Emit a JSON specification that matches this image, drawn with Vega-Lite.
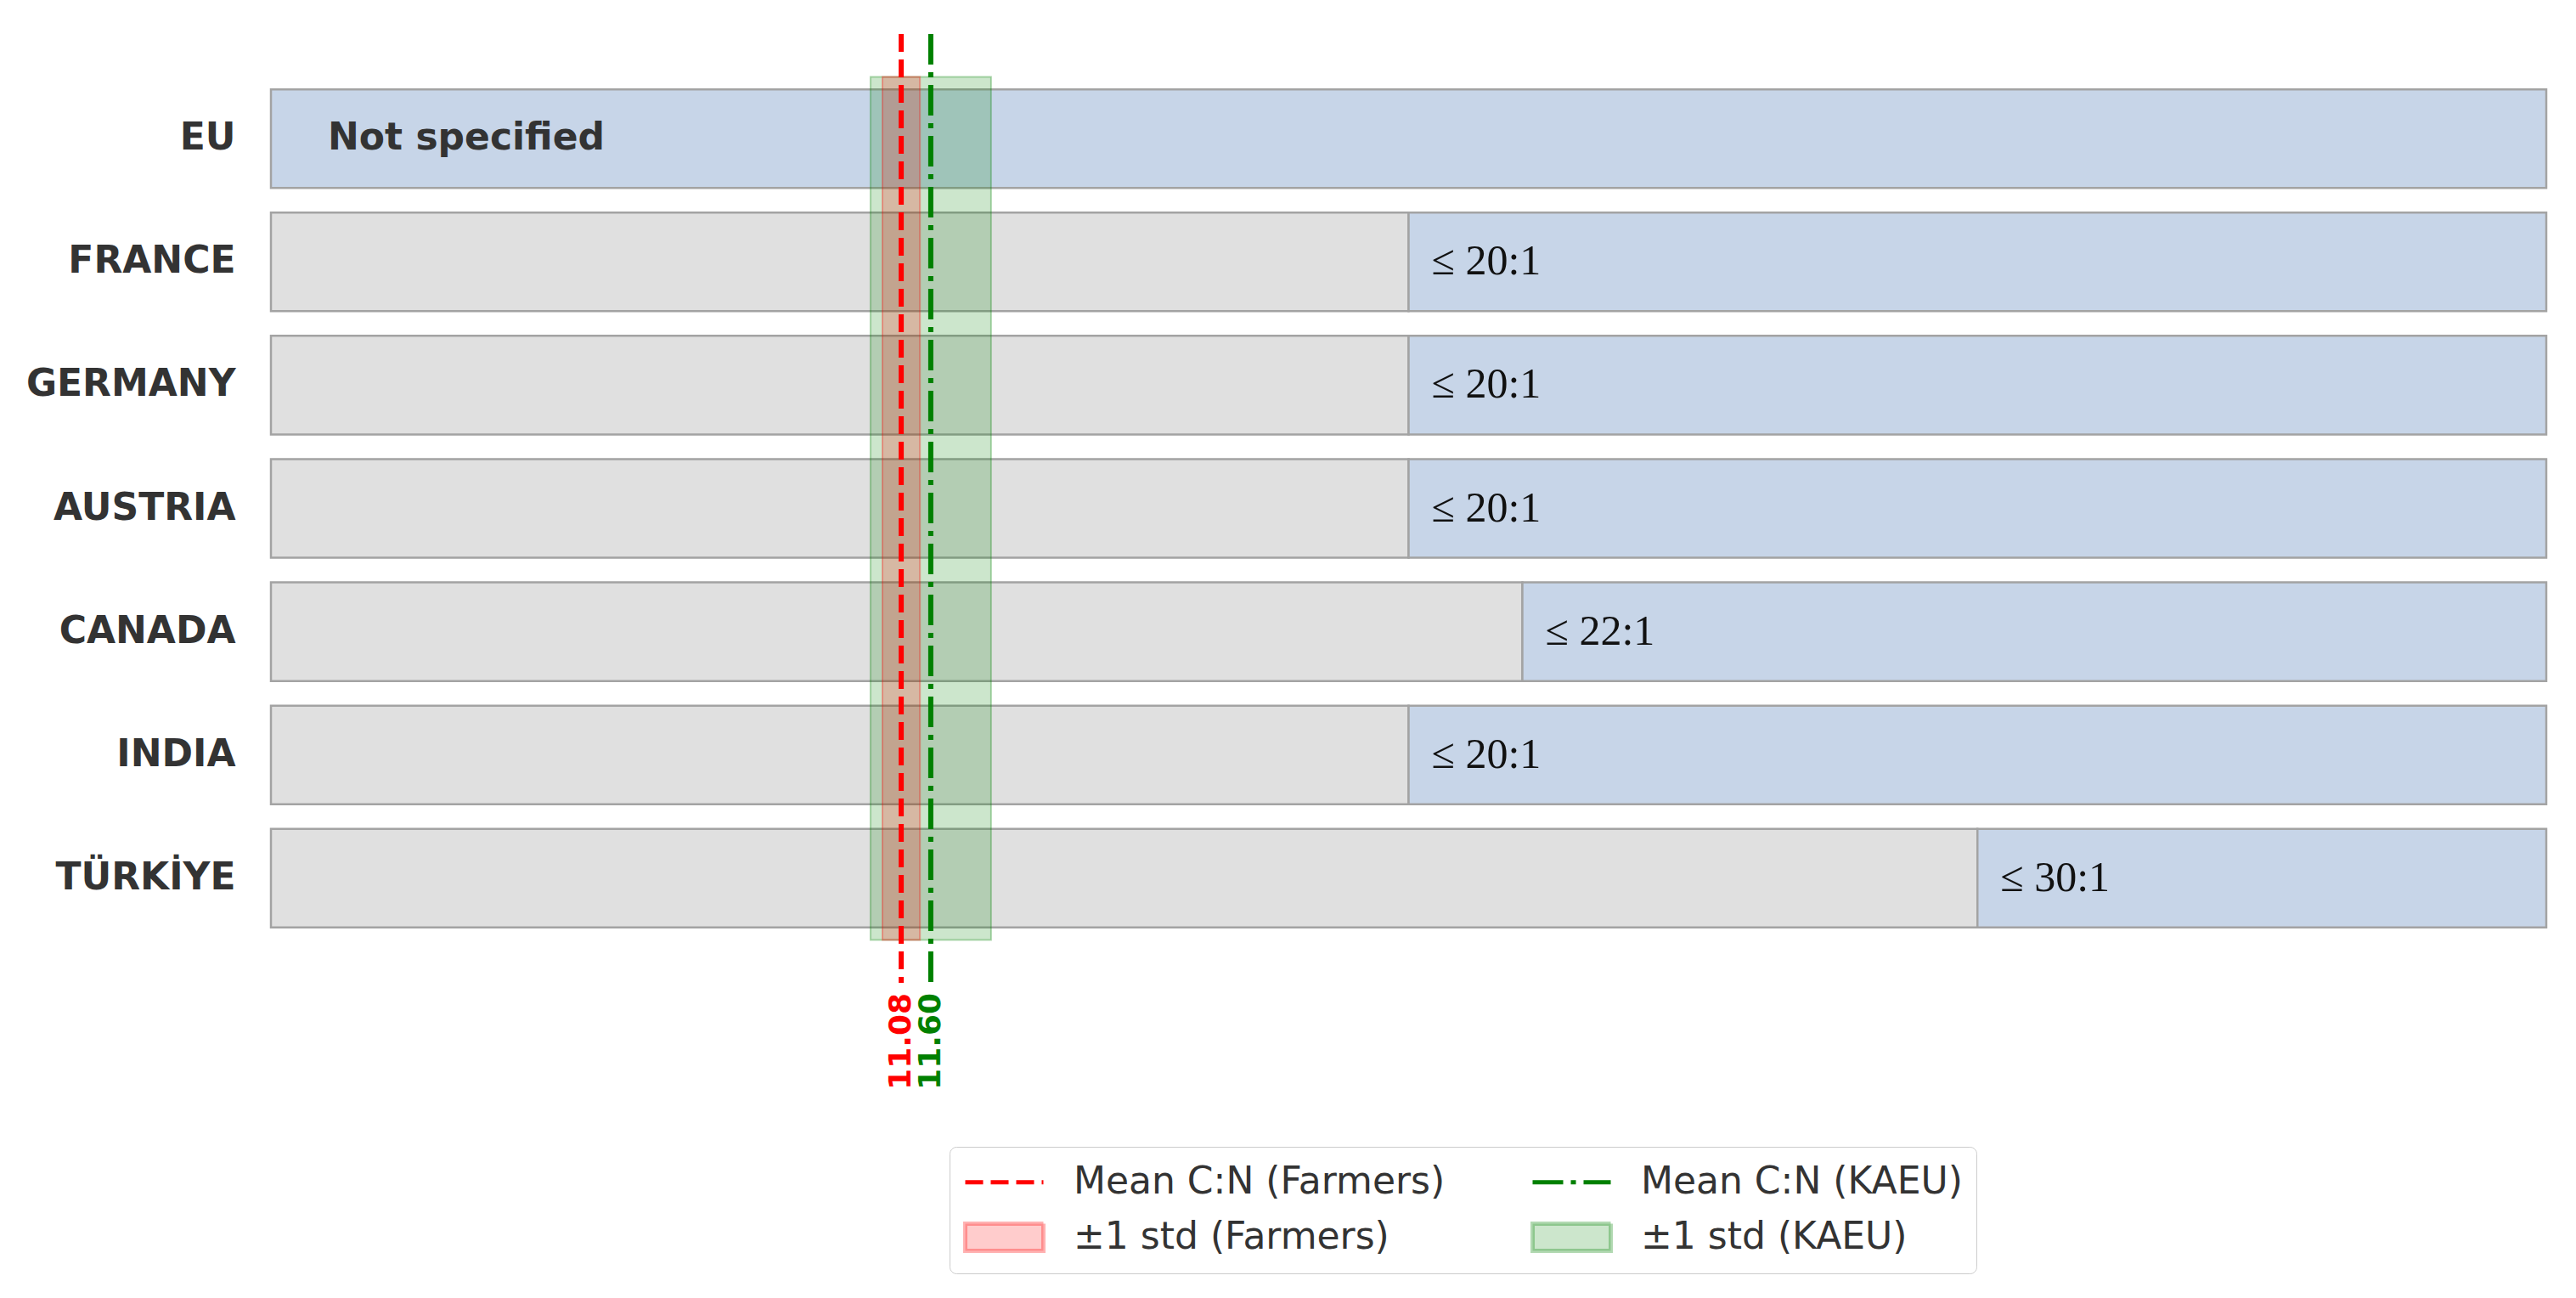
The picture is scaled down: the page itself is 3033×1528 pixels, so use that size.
{
  "$schema": "https://vega.github.io/schema/vega-lite/v6.json",
  "width": 2679,
  "height": 1117,
  "autosize": {"type": "none"},
  "padding": {"left": 319, "top": 40, "right": 35, "bottom": 371},
  "background": "white",
  "config": {
    "view": {"stroke": null},
    "font": "DejaVu Sans",
    "legend": {
      "orient": "none",
      "legendX": 799,
      "legendY": 1310,
      "direction": "horizontal",
      "columns": 2,
      "labelFont": "DejaVu Sans",
      "labelFontSize": 44,
      "labelColor": "#333333",
      "labelLimit": 1000,
      "symbolSize": 2116,
      "symbolStrokeWidth": 5,
      "symbolOpacity": 1,
      "labelOffset": 79,
      "columnPadding": 92,
      "rowPadding": 16,
      "padding": 16,
      "strokeColor": "#cccccc",
      "fillColor": "#ffffff",
      "cornerRadius": 8
    }
  },
  "datasets": {
    "limits": [
      {"country": "EU", "limit": 0, "label": "Not specified"},
      {"country": "FRANCE", "limit": 20, "label": "≤ 20:1"},
      {"country": "GERMANY", "limit": 20, "label": "≤ 20:1"},
      {"country": "AUSTRIA", "limit": 20, "label": "≤ 20:1"},
      {"country": "CANADA", "limit": 22, "label": "≤ 22:1"},
      {"country": "INDIA", "limit": 20, "label": "≤ 20:1"},
      {"country": "TÜRKİYE", "limit": 30, "label": "≤ 30:1"}
    ],
    "means": [
      {"series": "Mean C:N (Farmers)", "value": 11.08},
      {"series": "Mean C:N (KAEU)", "value": 11.60}
    ],
    "spread": [
      {"series": "±1 std (KAEU)", "span": "all", "lo": 10.54, "hi": 12.66},
      {"series": "±1 std (Farmers)", "span": "all", "lo": 10.75, "hi": 11.41}
    ]
  },
  "resolve": {"scale": {"y": "independent"}},
  "layer": [
    {
      "data": {"name": "limits"},
      "encoding": {
        "y": {
          "field": "country",
          "type": "nominal",
          "scale": {
            "domain": ["EU", "FRANCE", "GERMANY", "AUSTRIA", "CANADA", "INDIA", "TÜRKİYE"],
            "paddingInner": 0.2,
            "paddingOuter": 0.449
          },
          "axis": {
            "title": null,
            "ticks": false,
            "tickSize": 0,
            "domain": false,
            "grid": false,
            "labelFont": "DejaVu Sans",
            "labelFontWeight": "bold",
            "labelFontSize": 44,
            "labelColor": "#333333",
            "labelPadding": 42,
            "labelLimit": 1000
          }
        }
      },
      "layer": [
        {
          "transform": [{"filter": "datum.limit > 0"}],
          "mark": {"type": "bar", "fill": "#e0e0e0", "stroke": "#a3a3a3", "strokeWidth": 2.5},
          "encoding": {
            "x": {"field": "limit", "type": "quantitative", "scale": {"domain": [0, 40], "nice": false}, "axis": null},
            "x2": {"datum": 0}
          }
        },
        {
          "mark": {"type": "bar", "fill": "#c7d5e8", "stroke": "#a3a3a3", "strokeWidth": 2.5},
          "encoding": {
            "x": {"field": "limit", "type": "quantitative", "scale": {"domain": [0, 40], "nice": false}, "axis": null},
            "x2": {"datum": 40}
          }
        },
        {
          "transform": [{"filter": "datum.limit > 0"}],
          "mark": {"type": "text", "align": "left", "baseline": "middle", "dx": 27, "font": "Liberation Serif", "fontSize": 50, "color": "#111111"},
          "encoding": {
            "x": {"field": "limit", "type": "quantitative"},
            "text": {"field": "label"}
          }
        },
        {
          "transform": [{"filter": "datum.limit == 0"}],
          "mark": {"type": "text", "align": "left", "baseline": "middle", "dx": 67, "font": "DejaVu Sans", "fontWeight": "bold", "fontSize": 44, "color": "#333333"},
          "encoding": {
            "x": {"field": "limit", "type": "quantitative"},
            "text": {"field": "label"}
          }
        }
      ]
    },
    {
      "data": {"name": "spread"},
      "mark": {"type": "bar", "strokeWidth": 2},
      "encoding": {
        "y": {"field": "span", "type": "nominal", "scale": {"paddingInner": 0, "paddingOuter": 0.0497}, "axis": null},
        "x": {"field": "lo", "type": "quantitative"},
        "x2": {"field": "hi"},
        "fill": {
          "field": "series",
          "type": "nominal",
          "scale": {
            "domain": ["Mean C:N (Farmers)", "Mean C:N (KAEU)", "±1 std (Farmers)", "±1 std (KAEU)"],
            "range": ["transparent", "transparent", "rgba(255,0,0,0.2)", "rgba(0,128,0,0.2)"]
          },
          "legend": {"title": null}
        },
        "stroke": {
          "field": "series",
          "type": "nominal",
          "scale": {
            "domain": ["Mean C:N (Farmers)", "Mean C:N (KAEU)", "±1 std (Farmers)", "±1 std (KAEU)"],
            "range": ["#ff0000", "#008000", "rgba(255,0,0,0.3)", "rgba(0,128,0,0.3)"]
          },
          "legend": {"title": null}
        }
      }
    },
    {
      "data": {"name": "means"},
      "mark": {"type": "rule", "strokeWidth": 6},
      "encoding": {
        "x": {"field": "value", "type": "quantitative"},
        "strokeDash": {
          "field": "series",
          "type": "nominal",
          "scale": {
            "domain": ["Mean C:N (Farmers)", "Mean C:N (KAEU)", "±1 std (Farmers)", "±1 std (KAEU)"],
            "range": [[21, 9], [36, 9, 6, 9], [1, 0], [1, 0]]
          },
          "legend": {"title": null}
        },
        "stroke": {
          "field": "series",
          "type": "nominal",
          "scale": {
            "domain": ["Mean C:N (Farmers)", "Mean C:N (KAEU)", "±1 std (Farmers)", "±1 std (KAEU)"],
            "range": ["#ff0000", "#008000", "rgba(255,0,0,0.3)", "rgba(0,128,0,0.3)"]
          },
          "legend": {"title": null}
        }
      }
    },
    {
      "data": {"name": "means"},
      "mark": {"type": "point", "opacity": 0},
      "encoding": {
        "x": {"field": "value", "type": "quantitative"},
        "y": {"value": 0},
        "shape": {
          "field": "series",
          "type": "nominal",
          "scale": {
            "domain": ["Mean C:N (Farmers)", "Mean C:N (KAEU)", "±1 std (Farmers)", "±1 std (KAEU)"],
            "range": ["M-1,0H3", "M-1,0H3", "M-1,-0.7H3V0.7H-1Z", "M-1,-0.7H3V0.7H-1Z"]
          },
          "legend": {"title": null}
        }
      }
    },
    {
      "data": {"name": "means"},
      "mark": {"type": "text", "angle": 270, "align": "right", "baseline": "middle", "dx": -12, "font": "DejaVu Sans", "fontWeight": "bold", "fontSize": 36},
      "encoding": {
        "x": {"field": "value", "type": "quantitative"},
        "y": {"value": "height"},
        "text": {"field": "value", "type": "quantitative", "format": ".2f"},
        "color": {
          "condition": {"test": "datum.series === 'Mean C:N (KAEU)'", "value": "#008000"},
          "value": "#ff0000"
        }
      }
    }
  ]
}
